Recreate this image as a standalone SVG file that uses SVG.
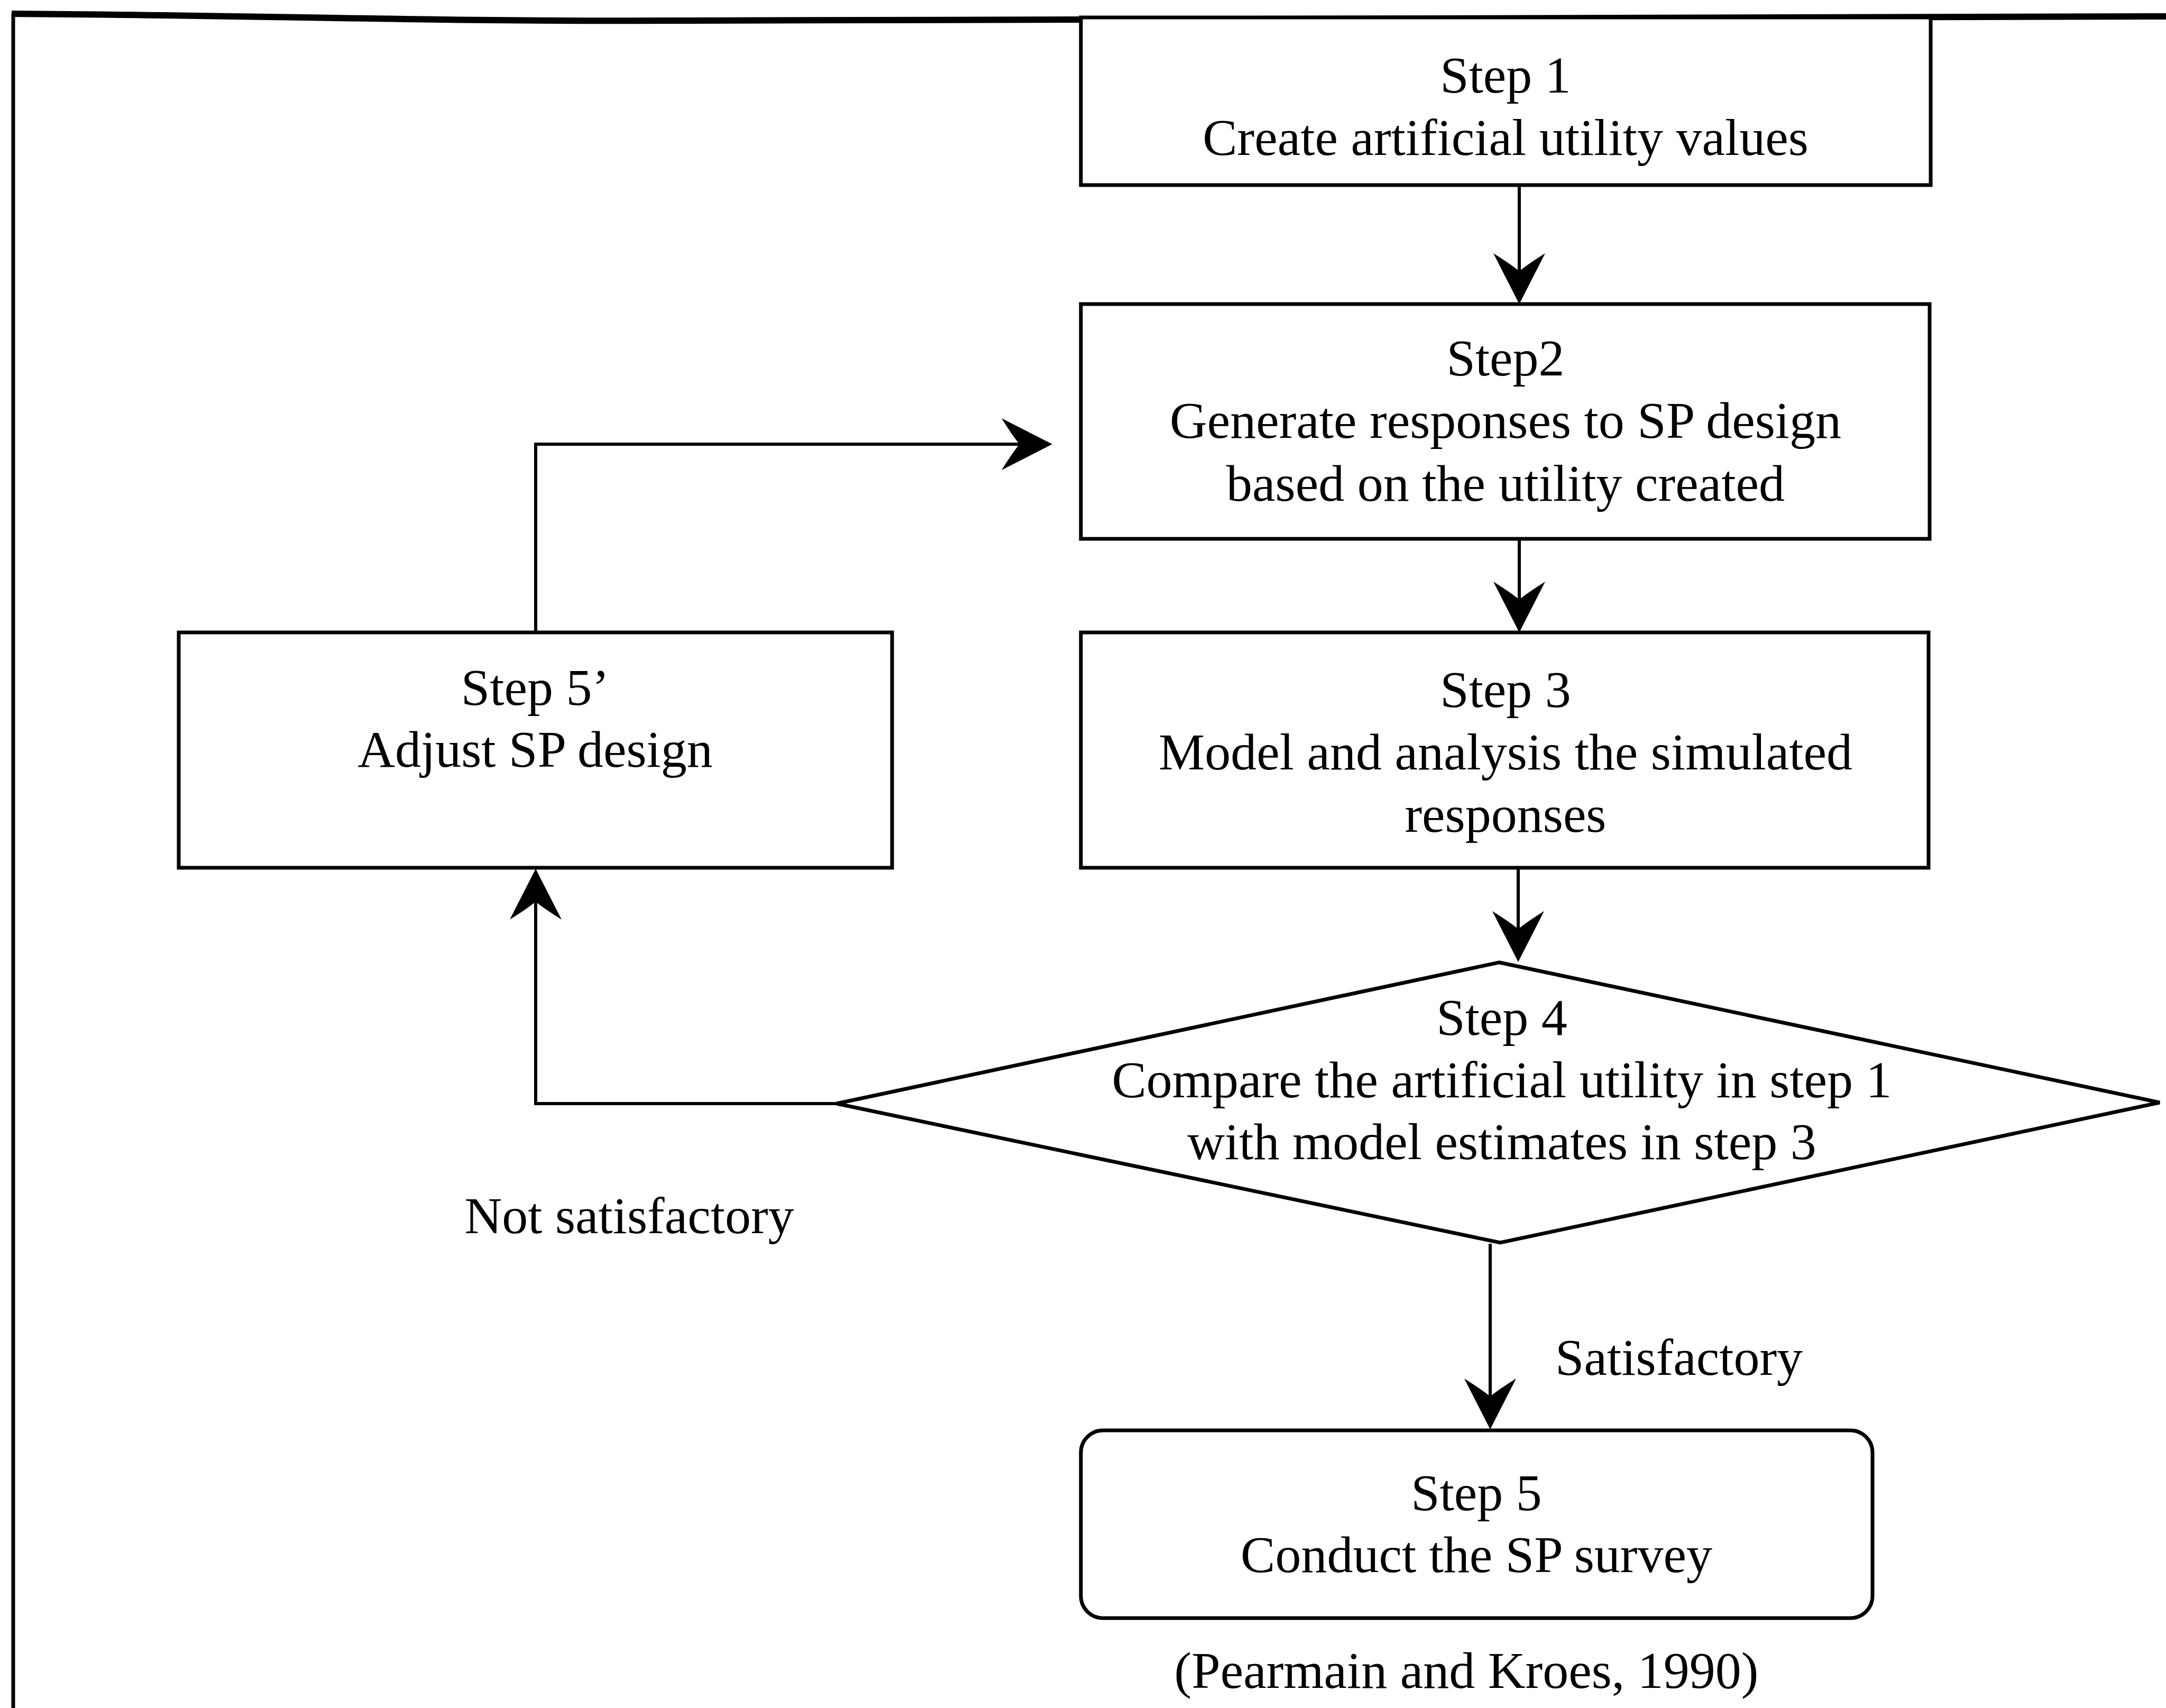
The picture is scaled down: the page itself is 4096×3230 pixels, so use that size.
<svg xmlns="http://www.w3.org/2000/svg" width="4096" height="3230" viewBox="0 0 4096 3230">
  <style>
    .box { fill: #ffffff; stroke: #000000; stroke-width: 7; }
    .frame { fill: none; stroke: #000000; }
    .link { fill: none; stroke: #000000; stroke-width: 6; }
    .label { font-family: "Liberation Serif", "Times New Roman", serif; font-size: 98px; fill: #000000; text-anchor: middle; }
  </style>
  <defs>
    <!-- barbed arrowhead; origin sits at the notch so the shaft stops inside the head -->
    <marker id="arrowhead" markerUnits="userSpaceOnUse" orient="auto" refX="0" refY="0"
            markerWidth="120" markerHeight="120" viewBox="-40 -60 120 120" overflow="visible">
      <path d="M62,0 L-34,-49 Q-12,-14 0,0 Q-12,14 -34,49 Z" fill="#000000"/>
    </marker>
  </defs>

  <rect x="0" y="0" width="4096" height="3230" fill="#ffffff"/>

  <!-- page frame: top rule and left rule -->
  <g id="frame">
    <path class="frame" stroke-width="12" d="M22,26 C500,29 800,41 1300,39 S2600,32 4096,31"/>
    <path class="frame" stroke-width="7" d="M25,25 L25,3230"/>
  </g>

  <!-- connectors -->
  <g id="connectors">
    <path class="link" d="M2873,350 L2873,513" marker-end="url(#arrowhead)"/>
    <path class="link" d="M2873,1019 L2873,1134" marker-end="url(#arrowhead)"/>
    <path class="link" d="M2871,1641 L2871,1757" marker-end="url(#arrowhead)"/>
    <path class="link" d="M2818,2352 L2818,2641" marker-end="url(#arrowhead)"/>
    <path class="link" d="M1582,2087 L1013,2087 L1013,1705" marker-end="url(#arrowhead)"/>
    <path class="link" d="M1013,1196 L1013,840 L1928,840" marker-end="url(#arrowhead)"/>
  </g>

  <g id="step1">
    <rect class="box" x="2044" y="33" width="1607" height="317"/>
    <text class="label" x="2847" y="175">Step 1</text>
    <text class="label" x="2847" y="293">Create artificial utility values</text>
  </g>

  <g id="step2">
    <rect class="box" x="2044" y="575" width="1605" height="444"/>
    <text class="label" x="2847" y="710">Step2</text>
    <text class="label" x="2847" y="828">Generate responses to SP design</text>
    <text class="label" x="2847" y="947">based on the utility created</text>
  </g>

  <g id="step3">
    <rect class="box" x="2044" y="1196" width="1603" height="445"/>
    <text class="label" x="2847" y="1337">Step 3</text>
    <text class="label" x="2847" y="1455">Model and analysis the simulated</text>
    <text class="label" x="2847" y="1573">responses</text>
  </g>

  <g id="step5prime">
    <rect class="box" x="338" y="1196" width="1349" height="445"/>
    <text class="label" x="1012" y="1333">Step 5’</text>
    <text class="label" x="1012" y="1450">Adjust SP design</text>
  </g>

  <g id="step4">
    <polygon class="box" points="2835,1820 4084,2085 2837,2350 1582,2087"/>
    <text class="label" x="2840" y="1957">Step 4</text>
    <text class="label" x="2840" y="2075">Compare the artificial utility in step 1</text>
    <text class="label" x="2840" y="2192">with model estimates in step 3</text>
  </g>

  <g id="step5">
    <rect class="box" x="2044" y="2705" width="1497" height="355" rx="42" ry="42"/>
    <text class="label" x="2792" y="2856">Step 5</text>
    <text class="label" x="2792" y="2973">Conduct the SP survey</text>
  </g>

  <g id="edge-labels">
    <text class="label" x="1190" y="2332">Not satisfactory</text>
    <text class="label" x="3175" y="2600">Satisfactory</text>
  </g>

  <text class="label" x="2773" y="3192">(Pearmain and Kroes, 1990)</text>
</svg>
